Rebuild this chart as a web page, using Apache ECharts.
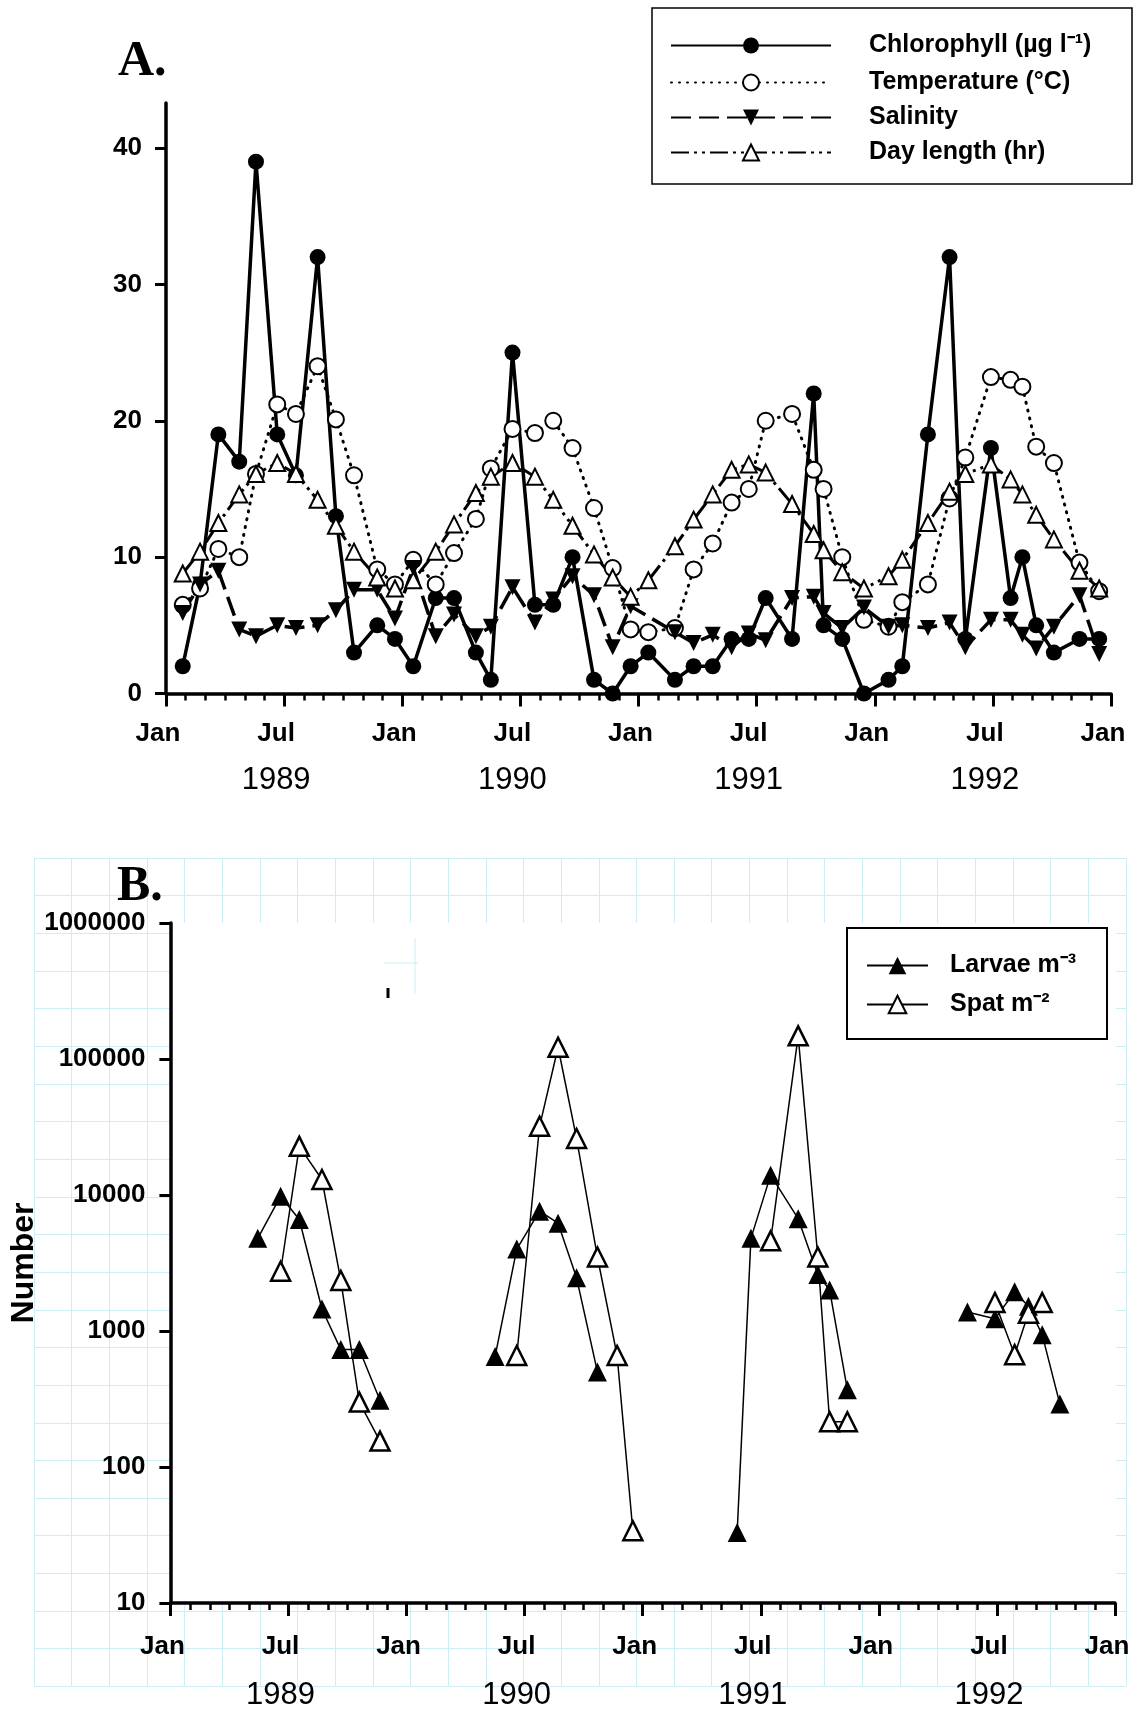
<!DOCTYPE html>
<html>
<head>
<meta charset="utf-8">
<script src="https://cdn.jsdelivr.net/npm/echarts@6/dist/echarts.min.js"></script>
<style>
  html, body { margin: 0; padding: 0; background: #fff; }
  #chart { width: 1139px; height: 1713px; }
</style>
</head>
<body>
<div id="chart"></div>
<script>
// sampling dates, in months after 1 Jan 1989
var sampleMonths = [0.85, 1.73, 2.66, 3.72, 4.57, 5.65, 6.6, 7.7, 8.63, 9.55, 10.73, 11.63,
  12.56, 13.7, 14.63, 15.74, 16.5, 17.6, 18.74, 19.67, 20.65, 21.74, 22.69, 23.6,
  24.5, 25.85, 26.8, 27.77, 28.73, 29.6, 30.46, 31.8, 32.9, 33.4, 34.35, 35.45,
  36.7, 37.4, 38.7, 39.8, 40.6, 41.9, 42.9, 43.5, 44.2, 45.1, 46.4, 47.4];
var chlorophyll = [2, 8, 19, 17, 39, 19, 16, 32, 13, 3, 5, 4,
  2, 7, 7, 3, 1, 25, 6.5, 6.5, 10, 1, 0, 2,
  3, 1, 2, 2, 4, 4, 7, 4, 22, 5, 4, 0,
  1, 2, 19, 32, 4, 18, 7, 10, 5, 3, 4, 4];
var temperature = [6.5, 7.7, 10.6, 10, 16.1, 21.2, 20.5, 24, 20.1, 16, 9.1, 8,
  9.8, 8, 10.3, 12.8, 16.5, 19.4, 19.1, 20, 18, 13.6, 9.2, 4.7,
  4.5, 4.8, 9.1, 11, 14, 15, 20, 20.5, 16.4, 15, 10, 5.4,
  4.9, 6.7, 8, 14.3, 17.3, 23.2, 23, 22.5, 18.1, 16.9, 9.6, 7.5];
var salinity = [5.9, 8, 9, 4.7, 4.2, 5, 4.8, 5, 6.1, 7.6, 7.6, 5.5,
  9.2, 4.2, 5.8, 4.2, 4.9, 7.8, 5.2, 6.9, 8.6, 7.2, 3.4, 6.4,
  null, 4.5, 3.7, 4.3, 3.4, 4.4, 3.9, 7, 7.1, 5.9, 4.8, 6.3,
  4.9, 5, 4.8, 5.2, 3.4, 5.4, 5.4, 4.3, 3.3, 4.9, 7.2, 2.9];
var dayLength = [8.8, 10.4, 12.5, 14.6, 16.1, 16.9, 16.1, 14.2, 12.3, 10.4, 8.5, 7.7,
  8.3, 10.4, 12.4, 14.7, 15.9, 16.9, 15.9, 14.2, 12.3, 10.2, 8.5, 7.1,
  8.3, 10.8, 12.75, 14.6, 16.4, 16.8, 16.2, 13.9, 11.7, 10.5, 8.9, 7.7,
  8.6, 9.8, 12.5, 14.8, 16.1, 16.8, 15.7, 14.6, 13.1, 11.3, 9.0, 7.7];

// panel B, null separates the yearly runs
var larvaeMonths = [4.44, 5.6, 6.55, 7.7, 8.66, 9.6, 10.65, null,
  16.5, 17.6, 18.76, 19.7, 20.64, 21.7, null,
  28.8, 29.5, 30.5, 31.9, 32.9, 33.5, 34.4, null,
  40.5, 41.9, 42.9, 43.6, 44.3, 45.2];
var larvae = [4800, 9800, 6600, 1450, 730, 730, 310, null,
  650, 4000, 7600, 6200, 2460, 500, null,
  33, 4800, 14000, 6700, 2600, 2000, 370, null,
  1380, 1230, 1940, 1520, 940, 290];
var spatMonths = [5.6, 6.55, 7.7, 8.66, 9.6, 10.65, null,
  17.6, 18.76, 19.7, 20.64, 21.7, 22.7, 23.5, null,
  30.5, 31.9, 32.9, 33.5, 34.4, null,
  41.9, 42.9, 43.6, 44.3];
var spat = [2750, 22800, 13000, 2350, 300, 155, null,
  660, 32000, 122000, 26000, 3500, 660, 34, null,
  4600, 148000, 3500, 215, 215, null,
  1620, 670, 1350, 1620];

var monthLabels = ['Jan', 'Jul'];
var yearLabels = ['1989', '1990', '1991', '1992'];
var chlTicks = [0, 10, 20, 30, 40];
var namesA = ['Chlorophyll (µg l⁻¹)', 'Temperature (°C)', 'Salinity', 'Day length (hr)'];
var namesB = ['Larvae m⁻³', 'Spat m⁻²'];

var sans = '"Liberation Sans", Arial, sans-serif';
var paper = '#cdeef4';
var chart = echarts.init(document.getElementById('chart'));

function pairs(xs, ys) {
  return xs.map(function (x, i) { return [x, ys[i]]; });
}

function timeAxis(gridIndex, margin, yearLine) {
  return {
    type: 'value', gridIndex: gridIndex, min: 0, max: 48, interval: 6, z: 3,
    axisLine: { onZero: false, lineStyle: { color: '#000', width: 3.5 } },
    axisTick: { length: 13, lineStyle: { color: '#000', width: 3 } },
    minorTick: { show: true, splitNumber: 6, length: 7, lineStyle: { color: '#000', width: 2.5 } },
    splitLine: { show: false },
    axisLabel: {
      margin: margin, padding: [0, 16, 0, 0],
      formatter: function (v) {
        var m = Math.round(v);
        if (m % 12 === 0) return '{m|' + monthLabels[0] + '}';
        return '{m|' + monthLabels[1] + '}\n{y|' + yearLabels[Math.floor(m / 12)] + '}';
      },
      rich: {
        m: { fontFamily: sans, fontWeight: 'bold', fontSize: 26, lineHeight: 30, color: '#000' },
        y: { fontFamily: sans, fontSize: 31, lineHeight: yearLine, color: '#000' }
      }
    }
  };
}

function legendItem(name, left, top, w, h, gap) {
  return {
    data: [name], left: left, top: top, orient: 'vertical', padding: 0,
    itemWidth: w, itemHeight: h, selectedMode: false,
    textStyle: {
      fontFamily: sans, fontWeight: 'bold', fontSize: 25, color: '#000', lineHeight: 20,
      padding: [0, 0, 0, gap]
    }
  };
}

var option = {
  animation: false,
  backgroundColor: '#fff',
  grid: [
    { left: 166, top: 103, width: 945, height: 590.5, outerBoundsMode: 'none' },
    { left: 170.4, top: 923, width: 944.6, height: 680, outerBoundsMode: 'none' },
    { left: 34, top: 858, width: 1091.85, height: 828.3, outerBoundsMode: 'none' }
  ],
  xAxis: [
    timeAxis(0, 25, 64),
    timeAxis(1, 28.5, 68),
    { type: 'value', gridIndex: 2, min: 0, max: 29, interval: 1, z: 0,
      axisLine: { show: false }, axisTick: { show: false }, axisLabel: { show: false },
      splitLine: { show: true, lineStyle: { color: paper, width: 1 } } }
  ],
  yAxis: [
    {
      type: 'value', gridIndex: 0, min: 0, max: 43.3, interval: 10,
      axisLine: { show: true, onZero: false, lineStyle: { color: '#000', width: 3.5 } },
      axisTick: { show: true, length: 11, customValues: chlTicks, lineStyle: { color: '#000', width: 3 } },
      axisLabel: { margin: 24, customValues: chlTicks, fontFamily: sans, fontWeight: 'bold', fontSize: 26, color: '#000',
        formatter: function (v) { return v % 10 === 0 ? String(v) : ''; } },
      splitLine: { show: false }
    },
    {
      type: 'log', logBase: 10, gridIndex: 1, min: 10, max: 1000000, z: 3,
      name: 'Number', nameLocation: 'middle', nameGap: 130, nameMoveOverlap: false,
      nameTextStyle: { fontFamily: sans, fontWeight: 'bold', fontSize: 32, color: '#000' },
      axisLine: { show: true, onZero: false, lineStyle: { color: '#000', width: 3.5 } },
      axisTick: { show: true, length: 11, lineStyle: { color: '#000', width: 3 } },
      axisLabel: { margin: 25, fontFamily: sans, fontWeight: 'bold', fontSize: 26, color: '#000',
        formatter: function (v) { return String(Math.round(v)); } },
      splitLine: { show: false }
    },
    { type: 'value', gridIndex: 2, min: 0, max: 22, interval: 1, z: 0,
      axisLine: { show: false }, axisTick: { show: false }, axisLabel: { show: false },
      splitLine: { show: true, lineStyle: { color: paper, width: 1 } } }
  ],
  legend: [
    legendItem(namesA[0], 670, 33, 160, 20, 33),
    legendItem(namesA[1], 670, 70, 160, 20, 33),
    legendItem(namesA[2], 670, 105, 160, 20, 33),
    legendItem(namesA[3], 670, 140, 160, 20, 33),
    legendItem(namesB[0], 866, 953, 61, 22, 17),
    legendItem(namesB[1], 866, 992, 61, 22, 17)
  ],
  series: [
    {
      name: namesA[0], type: 'line', xAxisIndex: 0, yAxisIndex: 0,
      data: pairs(sampleMonths, chlorophyll),
      symbol: 'circle', symbolSize: 16, color: '#000',
      itemStyle: { color: '#000' },
      lineStyle: { color: '#000', width: 3.5 }
    },
    {
      name: namesA[1], type: 'line', xAxisIndex: 0, yAxisIndex: 0,
      data: pairs(sampleMonths, temperature),
      symbol: 'circle', symbolSize: 16, color: '#000',
      itemStyle: { color: '#fff', borderColor: '#000', borderWidth: 2 },
      lineStyle: { color: '#000', width: 3, type: [1, 7], cap: 'round' }
    },
    {
      name: namesA[2], type: 'line', xAxisIndex: 0, yAxisIndex: 0,
      data: pairs(sampleMonths, salinity), connectNulls: true,
      symbol: 'triangle', symbolRotate: 180, symbolSize: 16, color: '#000',
      itemStyle: { color: '#000' },
      lineStyle: { color: '#000', width: 3.5, type: [20, 8] }
    },
    {
      name: namesA[3], type: 'line', xAxisIndex: 0, yAxisIndex: 0,
      data: pairs(sampleMonths, dayLength),
      symbol: 'triangle', symbolSize: 16, color: '#000',
      itemStyle: { color: '#fff', borderColor: '#000', borderWidth: 2 },
      lineStyle: { color: '#000', width: 3, type: [18, 5, 3, 5, 3, 5] }
    },
    {
      name: namesB[0], type: 'line', xAxisIndex: 1, yAxisIndex: 1, z: 4,
      data: pairs(larvaeMonths, larvae),
      symbol: 'triangle', symbolSize: 19, color: '#000',
      itemStyle: { color: '#000' },
      lineStyle: { color: '#000', width: 1.5 }
    },
    {
      name: namesB[1], type: 'line', xAxisIndex: 1, yAxisIndex: 1, z: 4,
      data: pairs(spatMonths, spat),
      symbol: 'triangle', symbolSize: 19, color: '#000',
      itemStyle: { color: '#fff', borderColor: '#000', borderWidth: 2.5 },
      lineStyle: { color: '#000', width: 1.5 }
    }
  ],
  graphic: {
    elements: [
      { type: 'rect', z: 1, z2: 10, shape: { x: 172, y: 923, width: 944, height: 678 }, style: { fill: '#fff' } },
      { type: 'rect', z: 1, z2: 11, shape: { x: 652, y: 8, width: 480, height: 176 }, style: { fill: '#fff', stroke: '#000', lineWidth: 1.5 } },
      { type: 'rect', z: 1, z2: 11, shape: { x: 847, y: 928, width: 260, height: 111 }, style: { fill: '#fff', stroke: '#000', lineWidth: 2 } },
      { type: 'line', z: 1, z2: 12, shape: { x1: 415, y1: 938, x2: 415, y2: 993 }, style: { stroke: paper, lineWidth: 1 } },
      { type: 'line', z: 1, z2: 12, shape: { x1: 384, y1: 963, x2: 418, y2: 963 }, style: { stroke: paper, lineWidth: 1 } },
      { type: 'line', z: 1, z2: 12, shape: { x1: 388, y1: 988, x2: 388, y2: 998 }, style: { stroke: '#000', lineWidth: 3 } },
      { type: 'text', z: 1, z2: 12, style: { x: 118, y: 62, text: 'A.', verticalAlign: 'middle', font: 'bold 50px "Liberation Serif", "Times New Roman", serif', fill: '#000' } },
      { type: 'text', z: 1, z2: 12, style: { x: 117, y: 887, text: 'B.', verticalAlign: 'middle', font: 'bold 50px "Liberation Serif", "Times New Roman", serif', fill: '#000' } }
    ]
  }
};

chart.setOption(option);
</script>
</body>
</html>
